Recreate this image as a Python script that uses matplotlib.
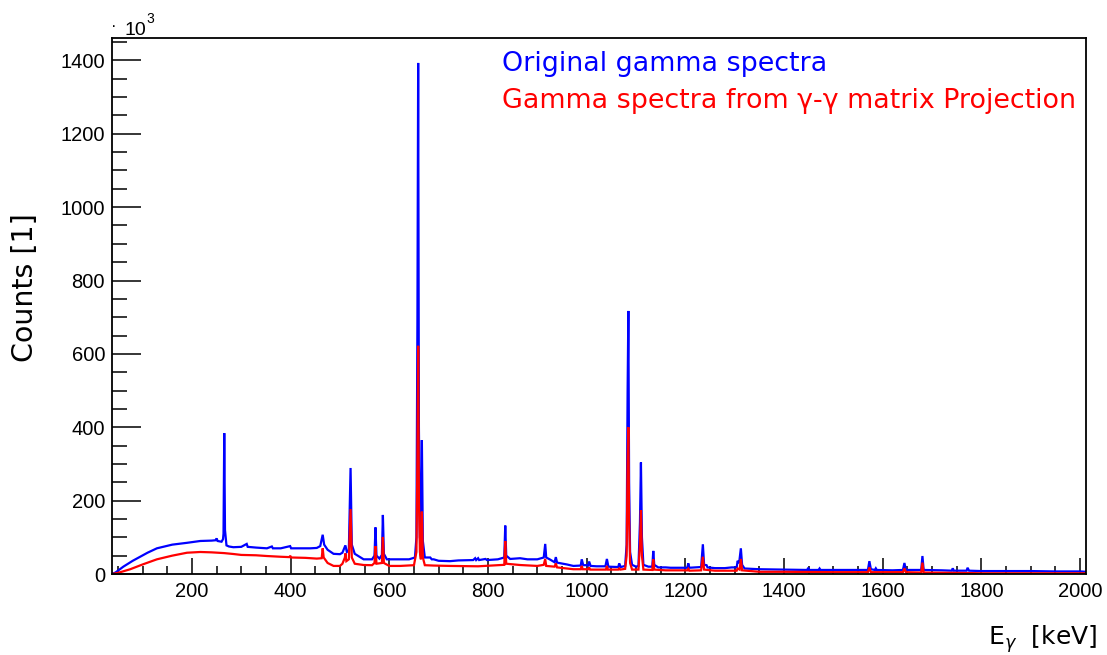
import matplotlib
matplotlib.use("Agg")
import matplotlib.pyplot as plt
from matplotlib.ticker import MultipleLocator

plt.rcParams["font.family"] = ["Liberation Sans", "DejaVu Sans"]

# Spectrum vertices: energy [keV] and counts [10^3]
orig_energy = [38, 45, 61, 80, 95, 110, 129, 160, 190, 217, 240, 248, 250, 252, 260,
               263, 264, 265.5, 267, 270, 275, 284, 300, 311, 313, 330, 352, 362, 364,
               380, 399, 401, 420, 440, 453, 460, 465, 468, 475, 487, 500, 505, 511,
               514, 518, 521.5, 524, 530, 548, 565, 570, 572, 574, 580, 585, 587, 589,
               595, 622, 640, 652, 655, 657, 658.5, 660, 662, 664, 666, 668, 672, 683,
               686, 690, 700, 723, 740, 770, 774, 776, 780, 782, 795, 798, 820, 833,
               835, 837, 845, 865, 880, 900, 913, 916, 918, 925, 935, 937.5, 940, 960,
               973, 985, 988, 990, 993, 1000, 1003, 1005, 1008, 1020, 1038, 1041, 1044,
               1060, 1064, 1066, 1069, 1078, 1081, 1083, 1084.5, 1086, 1088, 1092, 1100,
               1105, 1108, 1110, 1112, 1115, 1125, 1133, 1135, 1137, 1145, 1160, 1170,
               1190, 1204, 1206, 1208, 1220, 1232, 1235.5, 1238, 1243, 1245, 1260, 1280,
               1294, 1300, 1304, 1306, 1309, 1312.5, 1315, 1320, 1350, 1400, 1447, 1449,
               1451, 1470, 1472, 1474, 1500, 1540, 1570, 1573, 1576, 1584, 1586, 1588,
               1620, 1641, 1644, 1647, 1678, 1680.5, 1683, 1720, 1740, 1742, 1744, 1770,
               1772, 1775, 1800, 1850, 1900, 1950, 2000, 2012]
orig_counts = [0, 4, 20, 36, 47, 58, 70, 80, 85, 90, 91, 92, 97, 90, 88,
               95, 110, 384, 120, 78, 75, 73, 74, 82, 74, 72, 70, 75, 70,
               70, 76, 70, 70, 70, 71, 76, 107, 80, 66, 55, 54, 58, 78,
               60, 65, 289, 80, 55, 40, 40, 50, 127, 50, 42, 52, 161, 55,
               40, 40, 40, 45, 100, 690, 1393, 400, 100, 80, 365, 90, 45, 45,
               40, 40, 36, 35, 37, 38, 43, 38, 43, 38, 41, 38, 40, 45,
               132, 50, 41, 43, 40, 40, 45, 82, 45, 40, 32, 46, 31, 26,
               22, 23, 23, 40, 24, 24, 23, 34, 22, 21, 21, 41, 20,
               19, 19, 29, 19, 22, 80, 500, 717, 250, 60, 25, 20,
               22, 140, 304, 100, 25, 20, 20, 63, 25, 18, 18, 17,
               17, 17, 29, 17, 18, 19, 81, 25, 24, 18, 16, 16,
               18, 18, 18, 36, 30, 70, 25, 15, 13, 12, 11, 17,
               11, 11, 15, 11, 11, 11, 11, 35, 13, 11, 15.5, 11,
               10, 11, 30, 11, 11, 49, 11, 10, 9, 15.5, 9, 9,
               17, 9, 8, 8, 8, 7, 7, 6]

proj_energy = [38, 50, 75, 100, 129, 160, 190, 217, 240, 265, 284, 300, 330,
               352, 380, 398, 399, 401, 430, 453, 463, 465, 467, 475, 487, 500, 505,
               510, 511, 513, 518, 521.5, 524, 530, 548, 565, 570, 572, 574, 585, 587,
               589, 600, 622, 650, 655, 657, 658.5, 660, 662, 664, 666, 668, 672, 690,
               723, 780, 833, 835, 837, 865, 900, 913, 916, 918, 935, 937.5, 940, 960,
               973, 988, 990, 992, 1003, 1005, 1007, 1039, 1041, 1043, 1064, 1066, 1068,
               1078, 1081, 1083, 1084.5, 1086, 1088, 1092, 1105, 1108, 1110, 1112, 1115,
               1133, 1135, 1137, 1160, 1204, 1206, 1208, 1232, 1235.5, 1238, 1260, 1304,
               1306, 1310, 1312.5, 1315, 1350, 1400, 1500, 1570, 1573, 1576, 1641, 1644,
               1647, 1678, 1680.5, 1683, 1750, 1800, 2000, 2012]
proj_counts = [0, 3, 13, 26, 40, 50, 58, 60, 59, 57, 54.5, 52, 51,
               49, 47, 46, 50, 45, 44, 42, 43, 70, 45, 30, 22, 22, 28,
               45, 56, 35, 40, 177, 45, 28, 24.5, 24, 30, 76, 28, 30, 101,
               30, 22, 22, 24, 60, 320, 622, 200, 60, 40, 170, 45, 24, 23,
               22, 21, 25, 90, 28, 24.5, 22, 25, 41, 22, 20, 29, 18, 15,
               13, 13, 22, 13, 13, 18, 12, 12, 22, 12, 12, 15, 12,
               14, 50, 300, 400, 150, 30, 12, 12, 80, 174, 50, 12,
               11, 40, 12, 10, 10, 14, 9, 10, 47, 12, 9, 9,
               15, 12, 41, 10, 6, 6, 5, 5, 18, 5, 5, 15.5,
               5, 4, 31, 4, 3, 2, 2, 2]

x_range = (38, 2012)
y_range = (0, 1461)
legend_lines = ["Original gamma spectra", "Gamma spectra from \u03b3-\u03b3 matrix Projection"]

W, H = 1107, 655
fig = plt.figure(figsize=(W / 100, H / 100), dpi=100)
ax = fig.add_axes([112 / W, 1 - 574 / H, (1086 - 112) / W, (574 - 38) / H])

ax.plot(orig_energy, orig_counts, color="#0000ff", lw=1.6, solid_joinstyle="miter")
ax.plot(proj_energy, proj_counts, color="#ff0000", lw=1.6, solid_joinstyle="miter")

ax.set_xlim(*x_range)
ax.set_ylim(*y_range)

ax.xaxis.set_major_locator(MultipleLocator(200))
ax.xaxis.set_minor_locator(MultipleLocator(50))
ax.yaxis.set_major_locator(MultipleLocator(200))
ax.yaxis.set_minor_locator(MultipleLocator(50))

ax.tick_params(axis="x", which="major", direction="in", length=11.5, width=1.1, pad=6,
               labelsize=14.5, top=False)
ax.tick_params(axis="x", which="minor", direction="in", length=5.8, width=1.1, top=False)
ax.tick_params(axis="y", which="major", direction="in", length=20.9, width=1.1, pad=5,
               labelsize=14.5, right=False)
ax.tick_params(axis="y", which="minor", direction="in", length=10.8, width=1.1, right=False)

for sp in ax.spines.values():
    sp.set_linewidth(1.3)

# Exponent marker above the y axis
fig.text(114 / W, 1 - 31 / H, "\u00b7", fontsize=12, ha="center", va="baseline")
fig.text(124 / W, 1 - 35 / H, "10", fontsize=14, ha="left", va="baseline")
fig.text(146.5 / W, 1 - 23 / H, "3", fontsize=10, ha="left", va="baseline")

# Axis titles
fig.text(25 / W, 1 - 288 / H, "Counts [1]", rotation=90, fontsize=20.5,
         fontfamily="DejaVu Sans", ha="center", va="center")
fig.text(1097 / W, 1 - 645 / H, r"E$_{\gamma}$  [keV]", fontsize=18,
         fontfamily="DejaVu Sans", ha="right", va="baseline")

# Legend text
fig.text(502 / W, 1 - 64 / H, legend_lines[0], fontsize=19.4, color="#0000ff",
         fontfamily="DejaVu Sans", ha="left", va="center")
fig.text(502 / W, 1 - 101 / H, legend_lines[1], fontsize=19.4, color="#ff0000",
         fontfamily="DejaVu Sans", ha="left", va="center")

fig.savefig("out.png", dpi=100)
